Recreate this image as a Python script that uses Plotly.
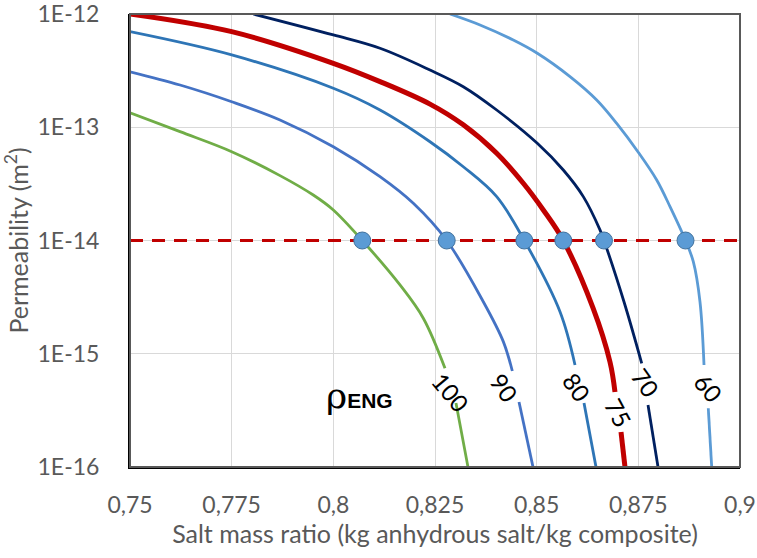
import numpy as np
import plotly.graph_objects as go

# Permeability curves for different rho_ENG values (None = gap for label)
x100 = [0.75, 0.76230, 0.77501, 0.78689, 0.79507, 0.80, 0.80712, 0.81639, 0.82212, 0.82746, None, 0.83016, 0.83311]
y100 = [1.344e-13, 9.14e-14, 6.08e-14, 3.74e-14, 2.52e-14, 1.86e-14, 1.0e-14, 4.05e-15, 2.06e-15, 7.44e-16, None, 3.67e-16, 1.0e-16]

x90 = [0.75, 0.76230, 0.77501, 0.78689, 0.80, 0.81148, 0.81967, 0.82788, 0.83688, 0.84180, 0.84401, None, 0.84566, 0.84910]
y90 = [3.09e-13, 2.36e-13, 1.68e-13, 1.16e-13, 6.73e-14, 3.66e-14, 2.13e-14, 1.0e-14, 2.88e-15, 1.28e-15, 7.04e-16, None, 3.75e-16, 1.0e-16]

x80 = [0.75, 0.77501, 0.80, 0.81148, 0.82377, 0.83196, 0.84017, 0.84696, 0.85574, 0.85943, None, 0.86164, 0.86459]
y80 = [6.98e-13, 4.35e-13, 2.21e-13, 1.42e-13, 7.45e-14, 4.48e-14, 2.44e-14, 1.0e-14, 2.35e-15, 7.96e-16, None, 3.67e-16, 1.0e-16]

x75 = [0.75, 0.77501, 0.80, 0.81148, 0.82377, 0.83196, 0.84017, 0.84671, 0.85163, 0.85655, 0.86385, 0.86803, 0.86926, None, 0.87074, 0.87172]
y75 = [1.0e-12, 6.98e-13, 3.67e-13, 2.53e-13, 1.60e-13, 1.05e-13, 5.89e-14, 3.20e-14, 1.86e-14, 1.0e-14, 2.54e-15, 8.46e-16, 4.60e-16, None, 2.04e-16, 1.0e-16]

x70 = [0.78032, 0.80, 0.81148, 0.82377, 0.83196, 0.84017, 0.85015, 0.85655, 0.86147, 0.86557, 0.86655, 0.87147, 0.87583, None, 0.87738, 0.87984]
y70 = [1.0e-12, 6.53e-13, 4.98e-13, 3.20e-13, 2.28e-13, 1.42e-13, 7.22e-14, 4.19e-14, 2.44e-14, 1.24e-14, 1.0e-14, 2.88e-15, 8.24e-16, None, 3.53e-16, 1.0e-16]

x60 = [0.82869, 0.83607, 0.84425, 0.85016, 0.85820, 0.86476, 0.86968, 0.87516, 0.87952, 0.88279, 0.88660, 0.88852, 0.89016, 0.89115, None, 0.89220, 0.89304]
y60 = [1.0e-12, 8.00e-13, 5.89e-13, 4.50e-13, 2.80e-13, 1.74e-13, 1.08e-13, 5.89e-14, 3.42e-14, 1.99e-14, 1.0e-14, 6.50e-15, 2.88e-15, 7.96e-16, None, 3.30e-16, 1.0e-16]

# Intersection points with target permeability 1E-14
target_k = 1e-14
marker_x = [0.80712, 0.82788, 0.84696, 0.85655, 0.86655, 0.88660]

# Curve labels
label_text = ["100", "90", "80", "75", "70", "60"]
label_x = [0.8290, 0.8420, 0.8600, 0.8700, 0.8767, 0.8923]
label_y = [4.59e-16, 4.99e-16, 5.08e-16, 3.0e-16, 5.52e-16, 5.08e-16]
label_angle = [50, 55, 55, 62, 55, 50]

x_ticks = [0.75, 0.775, 0.8, 0.825, 0.85, 0.875, 0.9]
x_ticktext = ["0,75", "0,775", "0,8", "0,825", "0,85", "0,875", "0,9"]
y_ticks = [1e-16, 1e-15, 1e-14, 1e-13, 1e-12]
y_ticktext = ["1E-16", "1E-15", "1E-14", "1E-13", "1E-12"]

curves = [
    (x100, y100, "#70AD47", 2.8),
    (x90, y90, "#4472C4", 2.8),
    (x80, y80, "#2E75B6", 2.8),
    (x75, y75, "#C00000", 5),
    (x70, y70, "#002060", 2.8),
    (x60, y60, "#5B9BD5", 2.8),
]

FONT = "Lato, 'Noto Sans', sans-serif"
fig = go.Figure()

for xs, ys, col, w in curves:
    fig.add_trace(go.Scatter(x=xs, y=ys, mode="lines", connectgaps=False,
                             line=dict(color=col, width=w, shape="spline", smoothing=1.0),
                             hoverinfo="skip", showlegend=False))

fig.add_trace(go.Scatter(x=[x_ticks[0], x_ticks[-1]], y=[target_k, target_k], mode="lines",
                         line=dict(color="#C00000", width=3, dash="13px,9px"),
                         showlegend=False, hoverinfo="skip"))

fig.add_trace(go.Scatter(x=marker_x, y=[target_k] * len(marker_x), mode="markers",
                         marker=dict(size=17, color="#5B9BD5", line=dict(color="#41719C", width=1)),
                         showlegend=False))

for t, lx, ly, ang in zip(label_text, label_x, label_y, label_angle):
    fig.add_annotation(x=lx, y=np.log10(ly), text=t, textangle=ang, showarrow=False,
                       font=dict(family=FONT, size=24, color="black"),
                       xanchor="center", yanchor="middle")

fig.add_annotation(x=0.80655, y=np.log10(4.3e-16), showarrow=False,
                   text="ρ<b><span style='font-size:21px;font-family:Liberation Sans, Arial'>ENG</span></b>",
                   font=dict(family="DejaVu Serif, serif", size=36, color="black"),
                   xanchor="center", yanchor="middle")

fig.update_layout(
    width=757, height=558,
    margin=dict(l=130, r=17, t=14, b=91),
    plot_bgcolor="white", paper_bgcolor="white",
    font=dict(family=FONT, color="#595959"),
    shapes=[dict(type="rect", xref="paper", yref="paper", x0=0, y0=0, x1=1, y1=1,
                 line=dict(color="#595959", width=2), layer="above")],
)

fig.update_xaxes(range=[0.75, 0.9], tickvals=x_ticks, ticktext=x_ticktext, automargin=False,
                 tickfont=dict(size=23, color="#595959"), ticklabelstandoff=16,
                 ticklabeloverflow="allow",
                 showgrid=True, gridcolor="#D9D9D9", gridwidth=1,
                 showline=True, linecolor="black", linewidth=2, zeroline=False, ticks="",
                 title=dict(text="Salt mass ratio (kg anhydrous salt/kg composite)",
                            font=dict(size=25, color="#595959"), standoff=8))

fig.update_yaxes(type="log", range=[-16, -12], tickvals=y_ticks, ticktext=y_ticktext, automargin=False,
                 tickfont=dict(size=23, color="#595959"), ticklabelstandoff=24,
                 ticklabeloverflow="allow",
                 showgrid=True, gridcolor="#D9D9D9", gridwidth=1,
                 showline=True, linecolor="black", linewidth=2, zeroline=False, ticks="",
                 title=dict(text="Permeability (m<sup>2</sup>)",
                            font=dict(size=25, color="#595959"), standoff=8))

fig.write_html("out.html")
